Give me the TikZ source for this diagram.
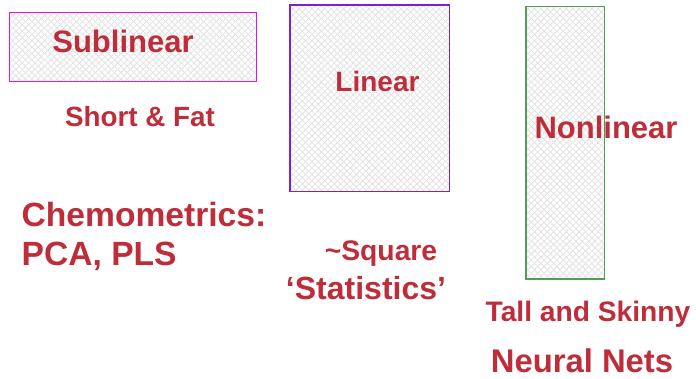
\documentclass[tikz,border=0pt]{standalone}
\usepackage{fontspec}
\setmainfont{Liberation Sans}
\usetikzlibrary{patterns.meta}
\definecolor{txtred}{RGB}{190,45,58}
\definecolor{boxmag}{RGB}{225,20,225}
\definecolor{boxpur}{RGB}{115,35,220}
\definecolor{boxgrn}{RGB}{80,160,80}
\tikzset{
  lbl/.style={text=txtred, inner sep=0pt, anchor=base, font=\bfseries},
  hatchbox/.style={line width=1.2pt},
}
\newcommand{\fs}[1]{\fontsize{#1}{#1}\selectfont}
\newcommand{\hatch}[4]{%
  \fill[white] (#1,#2) rectangle (#3,#4);
  \fill[pattern={Lines[angle=45,distance=4.5pt,line width=0.8pt]},pattern color=black!11] (#1,#2) rectangle (#3,#4);
  \fill[pattern={Lines[angle=-45,distance=4.5pt,line width=0.8pt]},pattern color=black!11] (#1,#2) rectangle (#3,#4);
}
\begin{document}
\begin{tikzpicture}[x=1pt,y=-1pt]
\useasboundingbox[fill=white] (0,0) rectangle (696,378);
% boxes
\hatch{9.5}{12.5}{256.5}{81.5}
\draw[hatchbox,boxmag] (9.5,12.5) rectangle (256.5,81.5);
\node[coordinate] (subbox) at (133,47) {};
\hatch{290}{5}{449.5}{191.5}
\draw[hatchbox,boxpur] (290,5) rectangle (449.5,191.5);
\node[coordinate] (linbox) at (370,98) {};
\hatch{526}{6.5}{604.5}{279}
\draw[hatchbox,boxgrn] (526,6.5) rectangle (604.5,279);
\node[coordinate] (nonbox) at (565,143) {};
% labels
\node[lbl, font=\bfseries\fs{31}] (sub) at (123,52.5) {Sublinear};
\node[lbl, font=\bfseries\fs{28}] (lin) at (377.5,91.7) {Linear};
\node[lbl, font=\bfseries\fs{31}] (non) at (606,138) {Nonlinear};
\node[lbl, font=\bfseries\fs{27.8}] (sf) at (140,126.7) {Short \& Fat};
\node[lbl, anchor=base west, font=\bfseries\fs{33.6}] (chem) at (21.5,226.7) {Chemometrics:};
\node[lbl, anchor=base west, font=\bfseries\fs{33.6}] (pca) at (21.5,265) {PCA, PLS};
\node[lbl, font=\bfseries\fs{28.3}] (sq) at (381,260.5) {\char"7E Square};
\node[lbl, font=\bfseries\fs{32}] (stat) at (366,299) {‘Statistics’};
\node[lbl, font=\bfseries\fs{28.2}] (tall) at (588,321) {Tall and Skinny};
\node[lbl, font=\bfseries\fs{32.8}] (nn) at (582,372) {Neural Nets};
\end{tikzpicture}
\end{document}
